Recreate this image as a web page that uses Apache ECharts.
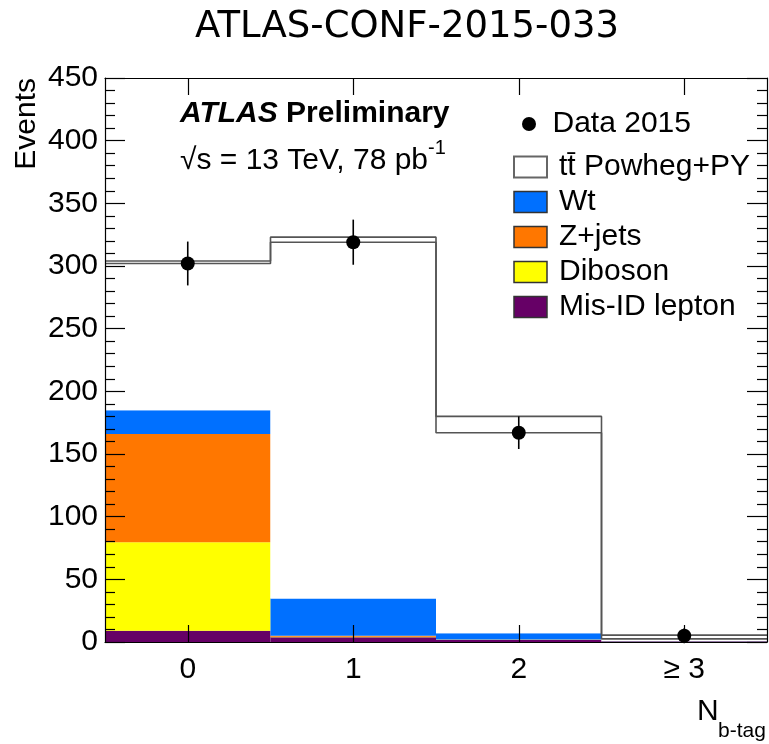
<!DOCTYPE html>
<html>
<head>
<meta charset="utf-8">
<script src="https://cdn.jsdelivr.net/npm/echarts@6/dist/echarts.min.js"></script>
<style>
  html, body { margin: 0; padding: 0; background: #fff; }
  #chart { width: 769px; height: 744px; }
</style>
</head>
<body>
<div id="chart"></div>
<script>
// b-tag multiplicity bins
const bins = [0, 1, 2, 3];
const binLabels = ['0', '1', '2', '\u2265 3'];
const yTicks = [0, 50, 100, 150, 200, 250, 300, 350, 400, 450];

// observed events and their uncertainties
const dataEvents = [302, 319, 167, 5];
const dataErrors = [17.5, 18, 13, 6];

// background contributions per bin
const misIdLepton = [9, 3.7, 1.6, 0.4];
const dibosonBkg = [70.5, 0.4, 0.1, 0.05];
const zJetsBkg = [86.5, 0.8, 0.2, 0.05];
const wtBkg = [19, 29.9, 5.0, 0.3];

// top of the full stack (tt̄ on top of backgrounds) and the second outline
const stackTotal = [304, 323, 180, 5.5];
const altOutline = [302, 319, 167, 2.5];

const COLORS = {
  misId: '#660066',
  diboson: '#ffff00',
  zjets: '#ff7700',
  wt: '#0070ff',
  ttbar: '#ffffff',
  outline: '#555555'
};
const FONT = '"Liberation Sans", Arial, Helvetica, sans-serif';
const TTBAR_NAME = 'tt\u0304 Powheg+PY';

// cumulative stack ranges [bin, low, high]
const layers = [
  { name: 'Mis-ID lepton', color: COLORS.misId, vals: misIdLepton },
  { name: 'Diboson', color: COLORS.diboson, vals: dibosonBkg },
  { name: 'Z+jets', color: COLORS.zjets, vals: zJetsBkg },
  { name: 'Wt', color: COLORS.wt, vals: wtBkg }
];
const base = bins.map(() => 0);
const stackSeries = layers.map(layer => {
  const ranges = bins.map((b, i) => {
    const lo = base[i];
    const hi = lo + layer.vals[i];
    base[i] = hi;
    return [b, lo, hi];
  });
  return makeBlock(layer.name, layer.color, ranges);
});
// tt̄ fills from the backgrounds up to the stack total
stackSeries.push(makeBlock(TTBAR_NAME, COLORS.ttbar,
  bins.map((b, i) => [b, base[i], stackTotal[i]])));

function makeBlock(name, color, ranges) {
  return {
    name: name,
    type: 'custom',
    z: 2,
    itemStyle: { color: color },
    encode: { x: 0, y: [1, 2] },
    data: ranges,
    renderItem: function (params, api) {
      const x = api.value(0);
      const p0 = api.coord([x - 0.5, api.value(1)]);
      const p1 = api.coord([x + 0.5, api.value(2)]);
      return {
        type: 'rect',
        shape: { x: p0[0], y: p1[1], width: p1[0] - p0[0], height: p0[1] - p1[1] },
        style: { fill: color }
      };
    }
  };
}

// histogram outline through bin edges
function edgeSteps(vals) {
  const pts = bins.map((b, i) => [b - 0.5, vals[i]]);
  pts.push([bins[bins.length - 1] + 0.5, vals[vals.length - 1]]);
  return pts;
}
function outlineSeries(vals) {
  return {
    type: 'line',
    step: 'end',
    symbol: 'none',
    silent: true,
    z: 4,
    lineStyle: { color: COLORS.outline, width: 1.6 },
    data: edgeSteps(vals)
  };
}

const frameAxis = {
  axisLine: { show: true, onZero: false, lineStyle: { color: '#000', width: 1.2 } },
  splitLine: { show: false }
};
const xTick = { show: true, inside: true, length: 17, customValues: bins, lineStyle: { color: '#000', width: 1.2 } };
const yTick = { show: true, inside: true, length: 20, lineStyle: { color: '#000', width: 1.2 } };
const yMinor = { show: true, splitNumber: 5, length: 10, lineStyle: { color: '#000', width: 1.2 } };

const option = {
  animation: false,
  backgroundColor: '#fff',
  textStyle: { fontFamily: FONT },
  grid: { left: 105, right: 2, top: 78, bottom: 102 },
  xAxis: [
    {
      type: 'value', min: -0.5, max: 3.5, position: 'bottom', z: 10,
      ...frameAxis,
      axisTick: xTick,
      axisLabel: {
        customValues: bins,
        formatter: v => binLabels[bins.indexOf(v)],
        color: '#000', fontSize: 30, fontFamily: FONT, margin: 13
      }
    },
    {
      type: 'value', min: -0.5, max: 3.5, position: 'top', z: 10,
      ...frameAxis,
      axisTick: xTick,
      axisLabel: { show: false }
    }
  ],
  yAxis: [
    {
      type: 'value', min: yTicks[0], max: yTicks[yTicks.length - 1], interval: 50, position: 'left', z: 10,
      ...frameAxis,
      axisTick: yTick,
      minorTick: yMinor,
      axisLabel: { color: '#000', fontSize: 30, fontFamily: FONT, margin: 7 }
    },
    {
      type: 'value', min: yTicks[0], max: yTicks[yTicks.length - 1], interval: 50, position: 'right', z: 10,
      ...frameAxis,
      axisTick: yTick,
      minorTick: yMinor,
      axisLabel: { show: false }
    }
  ],
  legend: [
    {
      orient: 'vertical', left: 517, top: 104,
      itemWidth: 33, itemHeight: 14,
      textStyle: { fontSize: 30, fontFamily: FONT, color: '#000', lineHeight: 30, padding: [0, 0, 0, 2] },
      data: [{ name: 'Data 2015', icon: 'circle', itemStyle: { opacity: 1 } }]
    },
    {
      orient: 'vertical', left: 508, top: 147, itemGap: 5,
      itemWidth: 33, itemHeight: 21,
      textStyle: { fontSize: 30, fontFamily: FONT, color: '#000', lineHeight: 30, padding: [0, 0, 0, 7] },
      data: [
        { name: TTBAR_NAME, icon: 'rect', itemStyle: { color: '#fff', borderColor: '#666', borderWidth: 2 } },
        { name: 'Wt', icon: 'rect', itemStyle: { borderColor: '#333', borderWidth: 1.5 } },
        { name: 'Z+jets', icon: 'rect', itemStyle: { borderColor: '#333', borderWidth: 1.5 } },
        { name: 'Diboson', icon: 'rect', itemStyle: { borderColor: '#333', borderWidth: 1.5 } },
        { name: 'Mis-ID lepton', icon: 'rect', itemStyle: { borderColor: '#333', borderWidth: 1.5 } }
      ]
    }
  ],
  series: [
    ...stackSeries,
    outlineSeries(stackTotal),
    outlineSeries(altOutline),
    {
      type: 'custom',
      z: 5,
      silent: true,
      encode: { x: 0, y: [1, 2] },
      data: bins.map((b, i) => [b, dataEvents[i] - dataErrors[i], dataEvents[i] + dataErrors[i]]),
      renderItem: function (params, api) {
        const lo = api.coord([api.value(0), api.value(1)]);
        const hi = api.coord([api.value(0), api.value(2)]);
        return {
          type: 'line',
          shape: { x1: lo[0], y1: lo[1], x2: hi[0], y2: hi[1] },
          style: { stroke: '#000', lineWidth: 1.6 }
        };
      }
    },
    {
      name: 'Data 2015',
      type: 'scatter',
      z: 6,
      symbol: 'circle',
      symbolSize: 14,
      itemStyle: { color: '#000', opacity: 1 },
      data: bins.map((b, i) => [b, dataEvents[i]])
    }
  ],
  graphic: [
    {
      type: 'text', x: 195, y: 27,
      style: { text: 'ATLAS-CONF-2015-033', fontSize: 37, fontFamily: '"DejaVu Sans", sans-serif', fill: '#000', verticalAlign: 'middle' }
    },
    {
      type: 'text', x: 180, y: 114,
      style: {
        text: '{a|ATLAS} {b|Preliminary}',
        verticalAlign: 'middle',
        rich: {
          a: { fontSize: 30, fontWeight: 'bold', fontStyle: 'italic', fontFamily: FONT, fill: '#000' },
          b: { fontSize: 30, fontWeight: 'bold', fontFamily: FONT, fill: '#000' }
        },
        font: 'bold 30px ' + FONT
      }
    },
    {
      type: 'text', x: 180, y: 161,
      style: { text: '\u221As = 13 TeV, 78 pb', fontSize: 30, fontFamily: FONT, fill: '#000', verticalAlign: 'middle' }
    },
    {
      type: 'text', x: 428, y: 148,
      style: { text: '-1', fontSize: 20, fontFamily: FONT, fill: '#000', verticalAlign: 'middle' }
    },
    {
      type: 'text', x: 27, y: 78, rotation: Math.PI / 2,
      style: { text: 'Events', fontSize: 30, fontFamily: FONT, fill: '#000', align: 'right', verticalAlign: 'middle' }
    },
    {
      type: 'text', x: 697, y: 712,
      style: { text: 'N', fontSize: 30, fontFamily: FONT, fill: '#000', verticalAlign: 'middle' }
    },
    {
      type: 'text', x: 718, y: 731,
      style: { text: 'b-tag', fontSize: 21, fontFamily: FONT, fill: '#000', verticalAlign: 'middle' }
    }
  ]
};

const chart = echarts.init(document.getElementById('chart'), null, { renderer: 'canvas' });
chart.setOption(option);
</script>
</body>
</html>
